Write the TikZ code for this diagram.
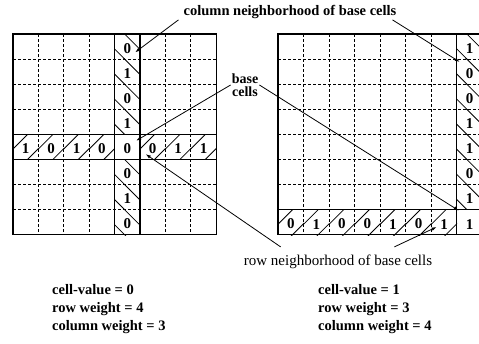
\documentclass[tikz,border=0pt]{standalone}
\usepackage{fontspec}
\setmainfont{Liberation Serif}
\usetikzlibrary{arrows.meta,positioning,calc}

\begin{document}
\begin{tikzpicture}[x=1pt,y=-1pt,
    frame/.style={line width=1.2pt},
    gridline/.style={line width=0.75pt, dash pattern=on 3pt off 2pt},
    hatch/.style={line width=0.8pt},
    lcell/.style={minimum width=25.4pt, minimum height=25.1pt, inner sep=0pt, text height=13.5pt, font=\fontsize{15}{15}\selectfont\bfseries},
    rcell/.style={lcell, minimum width=25.55pt},
    lbl/.style={inner sep=1pt, font=\fontsize{14.5}{15}\selectfont\bfseries},
    arr/.style={-{Latex[length=5pt,width=3.5pt]}, line width=0.8pt}
  ]
  \useasboundingbox (0,0) rectangle (479,343);
  \clip (0,0) rectangle (479,343);

  % left grid
  \foreach \i in {1,...,7} {
    \draw[gridline] (13+\i*25.4,34) -- (13+\i*25.4,234.8);
    \draw[gridline] (13,34+\i*25.1) -- (216.2,34+\i*25.1);
  }
  \draw[frame] (13,34) rectangle (216.2,234.8);
  \draw[frame] (114.6,34) -- (114.6,234.8) (140,34) -- (140,234.8);
  \draw[frame] (13,134.4) -- (216.2,134.4) (13,159.5) -- (216.2,159.5);

  \foreach \v [count=\r from 0] in {0,1,0,1,0,0,1,0} {
    \ifnum\r=4 \else
      \node[lcell] (lc\r) at (127.3,46.55+\r*25.1) {\v};
      \begin{scope}
        \clip (lc\r.north west) rectangle (lc\r.south east);
        \draw[hatch] ($(lc\r.north west)+(-5,10)$) -- ++(40,40)
                     ($(lc\r.north west)+(-5,-15)$) -- ++(40,40);
      \end{scope}
    \fi
  }
  \foreach \v [count=\c from 0] in {1,0,1,0,0,0,1,1} {
    \ifnum\c=4 \else
      \node[lcell] (lr\c) at (25.7+\c*25.4,146.95) {\v};
      \begin{scope}
        \clip (lr\c.north west) rectangle (lr\c.south east);
        \draw[hatch] ($(lr\c.north west)+(-5,20)$) -- ++(30,-30)
                     ($(lr\c.north west)+(-5,45)$) -- ++(50,-50);
      \end{scope}
    \fi
  }
  \node[lcell] (lbase) at (127.3,146.95) {0};

  % right grid
  \foreach \i in {1,...,6} {
    \draw[gridline] (278+\i*25.55,34) -- (278+\i*25.55,234.8);
    \draw[gridline] (278,34+\i*25.1) -- (482.4,34+\i*25.1);
  }
  \draw[frame] (278,34) rectangle (482.4,234.8);
  \draw[frame] (456.85,34) -- (456.85,234.8);
  \draw[frame] (278,209.7) -- (482.4,209.7);

  \foreach \v [count=\r from 0] in {1,0,0,1,1,0,1,1} {
    \ifnum\r=7 \else
      \node[rcell] (rc\r) at (469.625,46.55+\r*25.1) {\v};
      \begin{scope}
        \clip (rc\r.north west) rectangle (rc\r.south east);
        \draw[hatch] ($(rc\r.north west)+(-5,10)$) -- ++(40,40)
                     ($(rc\r.north west)+(-5,-15)$) -- ++(40,40);
      \end{scope}
    \fi
  }
  \foreach \v [count=\c from 0] in {0,1,0,0,1,0,1,1} {
    \ifnum\c=7 \else
      \node[rcell] (rr\c) at (290.775+\c*25.55,222.25) {\v};
      \begin{scope}
        \clip (rr\c.north west) rectangle (rr\c.south east);
        \draw[hatch] ($(rr\c.north west)+(-5,20)$) -- ++(30,-30)
                     ($(rr\c.north west)+(-5,45)$) -- ++(50,-50);
      \end{scope}
    \fi
  }
  \node[rcell] (rbase) at (469.625,222.25) {1};

  % labels
  \node[lbl] (colnb) at (290,12) {column neighborhood of base cells};
  \node[lbl, align=center, font=\fontsize{14}{12.5}\selectfont\bfseries] (basenb) at (245,85) {base\\cells};
  \node[lbl, font=\fontsize{15}{15}\selectfont] (rownb) at (338,262) {row neighborhood of base cells};
  \node[lbl, align=left, anchor=west, font=\fontsize{14.5}{18}\selectfont\bfseries] (lstat) at (51,309) {cell-value = 0\\row weight = 4\\column weight = 3};
  \node[lbl, align=left, anchor=west, font=\fontsize{14.5}{18}\selectfont\bfseries] (rstat) at (317,309) {cell-value = 1\\row weight = 3\\column weight = 4};

  \draw[arr] ([xshift=-4pt]colnb.south west) -- ($(lc0.south east)+(-5,-7)$);
  \draw[arr] ([xshift=-5pt]colnb.south east) -- ($(rc1.north west)+(3,3)$);
  \draw[arr] (basenb.west) -- ($(lbase.north east)+(-4,6.5)$);
  \draw[arr] (basenb.east) -- ($(rbase.north west)+(2,1)$);
  \draw[arr] ($(rownb.north west)+(38,-7)$) -- ($(lr5.south west)+(6,-5.5)$);
  \draw[arr] ($(rownb.north east)+(-39,-7)$) -- ($(rr6.south west)+(5.5,-8)$);
\end{tikzpicture}
\end{document}
